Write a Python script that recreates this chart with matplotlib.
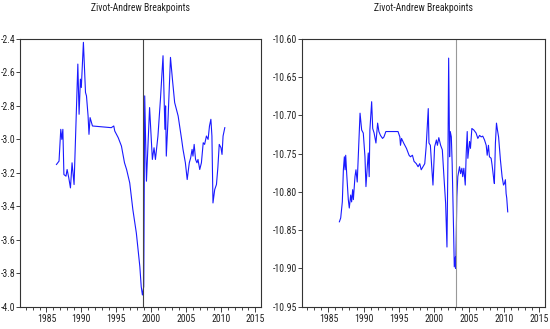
import numpy as np
import matplotlib
matplotlib.use("Agg")
import matplotlib.pyplot as plt
from matplotlib.ticker import MultipleLocator

plt.rcParams['font.family'] = ['Roboto Condensed', 'DejaVu Sans']

TITLE = "Zivot-Andrew Breakpoints"

# Left panel: breakpoint t-statistics
left_years = [
    1986.43, 1986.8, 1987.05, 1987.2, 1987.35, 1987.5, 1987.8, 1987.96, 1988.2, 1988.44,
    1988.67, 1988.96, 1989.5, 1989.68, 1989.87, 1990.0, 1990.3, 1990.6, 1990.74, 1990.97,
    1991.1, 1991.26, 1991.6, 1994.3, 1994.66, 1994.8, 1995.3, 1995.76, 1996.2, 1996.5,
    1996.95, 1997.4, 1997.9, 1998.4, 1998.6, 1998.77, 1998.96, 1999.1, 1999.35, 1999.8,
    2000.2, 2000.44, 2000.64, 2001.0, 2001.36, 2001.73, 2002.0, 2002.1, 2002.2, 2002.45,
    2002.8, 2003.1, 2003.4, 2003.9, 2004.4, 2004.6, 2004.94, 2005.2, 2005.5, 2005.7,
    2005.9, 2006.03, 2006.2, 2006.4, 2006.6, 2006.75, 2007.0, 2007.24, 2007.5, 2007.7,
    2007.96, 2008.2, 2008.4, 2008.6, 2008.75, 2008.9, 2009.15, 2009.4, 2009.6, 2009.8,
    2010.05, 2010.2, 2010.35, 2010.6,
]
left_values = [
    -3.15, -3.13, -2.94, -3.00, -2.94, -3.21, -3.22, -3.18, -3.23, -3.29,
    -3.14, -3.27, -2.55, -2.85, -2.64, -2.69, -2.42, -2.72, -2.74, -2.86,
    -2.97, -2.87, -2.92, -2.93, -2.92, -2.95, -2.99, -3.04, -3.14, -3.18,
    -3.26, -3.42, -3.56, -3.76, -3.88, -3.93, -3.88, -2.74, -3.25, -2.81,
    -3.12, -3.05, -3.12, -2.98, -2.76, -2.50, -2.94, -2.80, -3.10, -2.88,
    -2.51, -2.65, -2.78, -2.86, -3.00, -3.06, -3.14, -3.24, -3.14, -3.11,
    -3.06, -3.10, -3.03, -3.12, -3.14, -3.12, -3.18, -3.14, -3.02, -3.03,
    -2.98, -3.00, -2.92, -2.88, -2.98, -3.38, -3.30, -3.27, -3.17, -3.03,
    -3.05, -3.09, -2.98, -2.93,
]
left_break = 1998.9

# Right panel
right_years = [
    1986.56, 1986.75, 1986.98, 1987.13, 1987.27, 1987.37, 1987.46, 1987.6, 1987.83, 1987.97,
    1988.17, 1988.3, 1988.45, 1988.55, 1988.78, 1988.92, 1989.1, 1989.5, 1989.73, 1989.96,
    1990.2, 1990.34, 1990.5, 1990.67, 1990.8, 1990.9, 1991.15, 1991.3, 1991.5, 1991.76,
    1992.0, 1992.18, 1992.4, 1992.7, 1992.9, 1993.17, 1994.9, 1995.16, 1995.25, 1995.4,
    1995.7, 1996.1, 1996.47, 1996.67, 1996.95, 1997.18, 1997.5, 1997.75, 1997.99, 1998.2,
    1998.45, 1998.7, 1998.9, 1999.2, 1999.3, 1999.5, 1999.69, 1999.87, 2000.1, 2000.36,
    2000.5, 2000.7, 2000.96, 2001.2, 2001.43, 2001.67, 2001.86, 2002.0, 2002.1, 2002.24,
    2002.33, 2002.48, 2002.6, 2002.8, 2002.9, 2003.05, 2003.1, 2003.27, 2003.4, 2003.65,
    2003.8, 2003.98, 2004.1, 2004.26, 2004.46, 2004.6, 2004.74, 2004.83, 2005.07, 2005.2,
    2005.4, 2005.68, 2006.0, 2006.25, 2006.5, 2006.73, 2006.95, 2007.2, 2007.44, 2007.58,
    2007.76, 2007.9, 2008.14, 2008.28, 2008.47, 2008.6, 2008.75, 2008.9, 2009.04, 2009.2,
    2009.46, 2009.7, 2009.9, 2010.03, 2010.17, 2010.27, 2010.36, 2010.5,
]
right_values = [
    -10.839, -10.834, -10.813, -10.771, -10.754, -10.771, -10.752, -10.776, -10.810, -10.821,
    -10.804, -10.813, -10.797, -10.810, -10.780, -10.771, -10.787, -10.697, -10.719, -10.723,
    -10.754, -10.793, -10.771, -10.749, -10.780, -10.719, -10.682, -10.717, -10.723, -10.736,
    -10.710, -10.721, -10.726, -10.730, -10.728, -10.721, -10.721, -10.728, -10.739, -10.730,
    -10.736, -10.743, -10.752, -10.754, -10.752, -10.760, -10.763, -10.767, -10.763, -10.771,
    -10.767, -10.763, -10.741, -10.691, -10.736, -10.739, -10.767, -10.791, -10.741, -10.732,
    -10.739, -10.729, -10.739, -10.745, -10.780, -10.815, -10.872, -10.754, -10.625, -10.754,
    -10.721, -10.728, -10.763, -10.850, -10.898, -10.885, -10.900, -10.806, -10.780, -10.767,
    -10.776, -10.769, -10.780, -10.769, -10.791, -10.749, -10.721, -10.756, -10.734, -10.743,
    -10.717, -10.719, -10.723, -10.730, -10.726, -10.728, -10.727, -10.732, -10.739, -10.752,
    -10.739, -10.754, -10.756, -10.765, -10.780, -10.789, -10.736, -10.710, -10.719, -10.728,
    -10.758, -10.780, -10.791, -10.789, -10.784, -10.802, -10.808, -10.826,
]
right_break = 2003.2

x_ticks = [1985, 1990, 1995, 2000, 2005, 2010, 2015]
left_yticks = [-4.0, -3.8, -3.6, -3.4, -3.2, -3.0, -2.8, -2.6, -2.4]
right_yticks = [-10.95, -10.90, -10.85, -10.80, -10.75, -10.70, -10.65, -10.60]


def style_axis(ax, yticks, fmt, break_year, break_color):
    ax.set_xlim(1981.2, 2015.8)
    ax.set_ylim(yticks[0], yticks[-1])
    ax.set_xticks(x_ticks)
    ax.xaxis.set_minor_locator(MultipleLocator(1))
    ax.set_yticks(yticks)
    ax.set_yticklabels([fmt.format(v) for v in yticks])
    ax.tick_params(axis='both', which='major', labelsize=7, width=0.6,
                   direction='out', colors='#222222')
    ax.tick_params(axis='x', which='major', length=3.6, pad=2)
    ax.tick_params(axis='x', which='minor', length=2.2, width=0.5, direction='out')
    ax.tick_params(axis='y', which='major', length=3, pad=0.5)
    for s in ax.spines.values():
        s.set_linewidth(0.8)
        s.set_color('#333333')
    ax.axvline(break_year, color=break_color, lw=0.8)


fig = plt.figure(figsize=(5.5, 3.29), dpi=100)
ax1 = fig.add_axes([0.0364, 0.0678, 0.4382, 0.8137])
ax2 = fig.add_axes([0.5485, 0.0678, 0.4424, 0.8137])

ax1.plot(left_years, left_values, color='#1a1aff', lw=0.8)
style_axis(ax1, left_yticks, "{:.1f}", left_break, '#444444')

ax2.plot(right_years, right_values, color='#1a1aff', lw=0.8)
style_axis(ax2, right_yticks, "{:.2f}", right_break, '#999999')

for ax in (ax1, ax2):
    box = ax.get_position()
    fig.text((box.x0 + box.x1) / 2, 1 - 8 / 329, TITLE, ha='center', va='center',
             fontsize=7, color='#222222')

fig.savefig("out.png", dpi=100)
